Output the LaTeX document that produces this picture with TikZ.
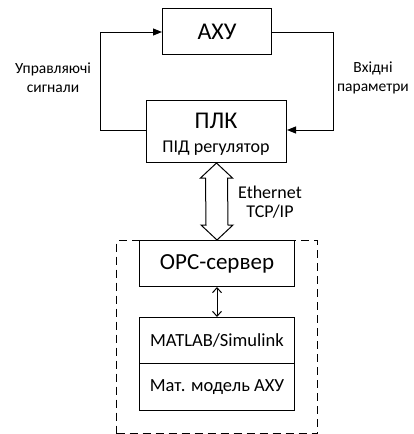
\documentclass[tikz,border=0pt]{standalone}
\usepackage{fontspec}
\setmainfont{Carlito}
\usetikzlibrary{arrows.meta,calc}
\begin{document}
\begin{tikzpicture}[x=1pt,y=-1pt,
  box/.style={draw,line width=1pt,inner sep=0pt},
  conn/.style={line width=1pt},
  lbl/.style={align=center,inner sep=0pt,font=\fontsize{15.5}{19}\selectfont}]
\useasboundingbox (0,0) rectangle (414,434);
% dashed container
\node[box,dash pattern=on 8pt off 5pt,minimum width=201pt,minimum height=193pt,anchor=north west] (grp) at (116,240) {};
% boxes
\node[box,minimum width=109pt,minimum height=46pt,anchor=north west,font=\fontsize{24}{28}\selectfont] (axu) at (162,8) {АХУ};
\node[box,minimum width=140pt,minimum height=62pt,anchor=north west] (plk) at (146,100) {};
\node[inner sep=0pt,font=\fontsize{24}{28}\selectfont] (plkt) at (216,121) {ПЛК};
\node[inner sep=0pt,font=\fontsize{18}{22}\selectfont] (pid) at (216,148) {ПІД регулятор};
\node[box,minimum width=155pt,minimum height=46pt,anchor=north west,font=\fontsize{23}{28}\selectfont] (opc) at (139,240) {OPC-сервер};
\node[box,minimum width=155pt,minimum height=46pt,anchor=north west,font=\fontsize{18.5}{22}\selectfont] (mat) at (139,317) {MATLAB/Simulink};
\node[box,minimum width=155pt,minimum height=47pt,anchor=north west,font=\fontsize{18.5}{22}\selectfont] (mod) at (139,363) {Мат. модель АХУ};
% loop connectors
\coordinate (lt) at (100,32);
\coordinate (lb) at (100,130);
\coordinate (rt) at (333,32);
\coordinate (rb) at (333,130);
\draw[conn,-{Triangle[length=9pt,width=7pt]}] (plk.west |- lb) -- (lb) -- (lt) -- (axu.west |- lt);
\draw[conn,-{Triangle[length=9pt,width=7pt]}] (axu.east |- rt) -- (rt) -- (rb) -- (plk.east |- rb);
% labels
\node[lbl] (ul) at (53,78) {Управляючі\\сигнали};
\node[lbl] (vl) at (373,78) {Вхідні\\параметри};
% big double arrow (hollow)
\coordinate (ea) at (plk.south);
\coordinate (eb) at (opc.north);
\draw[line width=1pt,line join=miter,fill=white]
  (ea) -- ($(ea)+(16,15)$) -- ($(ea)+(11,15)$) -- ($(eb)+(11,-15)$) -- ($(eb)+(16,-15)$)
  -- (eb) -- ($(eb)+(-16,-15)$) -- ($(eb)+(-11,-15)$) -- ($(ea)+(-11,15)$) -- ($(ea)+(-16,15)$) -- cycle;
\node[lbl,font=\fontsize{18}{19}\selectfont] (ethl) at (270,202) {Ethernet\\TCP/IP};
% small double arrow
\draw[conn,{Straight Barb[length=5pt,width=9pt]}-{Straight Barb[length=5pt,width=9pt]}] (opc.south) -- (mat.north);
\end{tikzpicture}
\end{document}
